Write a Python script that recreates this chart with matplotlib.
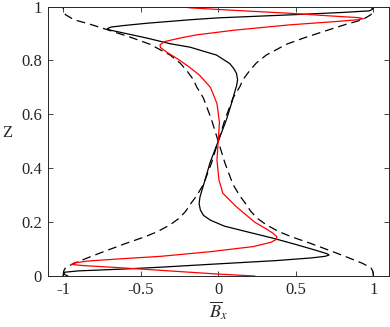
#!/usr/bin/env python
# -*- coding: utf-8 -*-

import matplotlib
matplotlib.use("Agg")
import matplotlib.pyplot as plt

# dashed curve going from (1, 0) up to (-1, 1)
dash_a_z = [0.000, 0.010, 0.020, 0.030, 0.047, 0.070, 0.090, 0.120, 0.146, 0.165,
            0.190, 0.215, 0.240, 0.270, 0.297, 0.340, 0.420, 0.500, 0.580, 0.660,
            0.703, 0.728, 0.760, 0.790, 0.820, 0.860, 0.885, 0.914, 0.935, 0.951,
            0.970, 0.980, 0.990, 1.000]
dash_a_x = [1.000, 0.998, 0.995, 0.985, 0.930, 0.830, 0.740, 0.600, 0.470, 0.390,
            0.310, 0.250, 0.210, 0.175, 0.140, 0.095, 0.043, 0.000, -0.043, -0.095,
            -0.140, -0.159, -0.200, -0.245, -0.310, -0.440, -0.560, -0.715, -0.830, -0.930,
            -0.985, -0.995, -0.998, -1.000]

# dashed curve going from (-1, 0) up to (1, 1)
dash_b_z = [0.000, 0.010, 0.020, 0.030, 0.047, 0.070, 0.090, 0.120, 0.146, 0.165,
            0.190, 0.215, 0.240, 0.270, 0.297, 0.340, 0.420, 0.500, 0.580, 0.660,
            0.703, 0.728, 0.760, 0.790, 0.820, 0.860, 0.885, 0.914, 0.935, 0.951,
            0.970, 0.980, 0.990, 1.000]
dash_b_x = [-1.000, -0.998, -0.995, -0.985, -0.930, -0.830, -0.740, -0.600, -0.470, -0.390,
            -0.310, -0.250, -0.210, -0.175, -0.140, -0.095, -0.043, 0.000, 0.043, 0.095,
            0.140, 0.159, 0.200, 0.245, 0.310, 0.440, 0.560, 0.715, 0.830, 0.930,
            0.985, 0.995, 0.998, 1.000]

# black solid profile
black_x = [-0.970, -0.995, -0.990, -0.900, -0.600, -0.360, 0.000, 0.370, 0.600, 0.690,
           0.715, 0.700, 0.620, 0.500, 0.355, 0.200, 0.040, -0.050, -0.095, -0.115,
           -0.123, -0.118, -0.105, -0.088, -0.053, 0.000, 0.053, 0.088, 0.105, 0.118,
           0.125, 0.118, 0.100, 0.075, -0.011, -0.100, -0.180, -0.310, -0.460, -0.620,
           -0.700, -0.715, -0.690, -0.600, -0.460, -0.180, 0.000, 0.460, 0.800, 0.975,
           0.995, 0.985]
black_z = [0.000, 0.007, 0.014, 0.019, 0.026, 0.033, 0.045, 0.057, 0.067, 0.073,
           0.078, 0.083, 0.097, 0.117, 0.140, 0.162, 0.185, 0.207, 0.225, 0.245,
           0.268, 0.292, 0.318, 0.350, 0.420, 0.500, 0.580, 0.645, 0.680, 0.705,
           0.728, 0.752, 0.770, 0.788, 0.820, 0.835, 0.849, 0.862, 0.883, 0.903,
           0.913, 0.918, 0.924, 0.930, 0.938, 0.951, 0.958, 0.969, 0.978, 0.984,
           0.990, 1.000]

# red solid profile
red_x = [0.235, 0.000, -0.370, -0.700, -0.880, -0.945, -0.930, -0.850, -0.650, -0.370,
         -0.054, 0.224, 0.340, 0.375, 0.378, 0.350, 0.320, 0.235, 0.117, 0.030,
         0.005, -0.008, 0.000, 0.008, -0.008, -0.050, -0.120, -0.190, -0.260, -0.330,
         -0.372, -0.375, -0.345, -0.230, -0.137, 0.100, 0.460, 0.750, 0.900, 0.935,
         0.900, 0.700, 0.460, 0.100, -0.180, -0.236]
red_z = [0.000, 0.007, 0.021, 0.033, 0.039, 0.043, 0.048, 0.055, 0.063, 0.073,
         0.090, 0.109, 0.125, 0.136, 0.146, 0.160, 0.171, 0.200, 0.257, 0.307,
         0.356, 0.430, 0.500, 0.570, 0.640, 0.700, 0.745, 0.777, 0.805, 0.830,
         0.848, 0.858, 0.870, 0.885, 0.895, 0.912, 0.932, 0.944, 0.951, 0.955,
         0.959, 0.966, 0.975, 0.986, 0.995, 1.000]

x_ticks = [-1, -0.5, 0, 0.5, 1]
x_tick_labels = ["-1", "-0.5", "0", "0.5", "1"]
z_ticks = [0, 0.2, 0.4, 0.6, 0.8, 1]
z_tick_labels = ["0", "0.2", "0.4", "0.6", "0.8", "1"]


def main():
    plt.rcParams['font.family'] = ['Liberation Serif', 'DejaVu Serif']
    plt.rcParams['mathtext.fontset'] = 'stix'

    fig = plt.figure(figsize=(3.9, 3.27), dpi=100)
    ax = fig.add_axes([0.122, 0.156, 0.875, 0.824])

    # MATLAB-like long dashes
    dash = (0, (7, 4))
    ax.plot(dash_a_x, dash_a_z, color='k', linewidth=0.9, linestyle=dash)
    ax.plot(dash_b_x, dash_b_z, color='k', linewidth=0.9, linestyle=dash)
    ax.plot(black_x, black_z, color='k', linewidth=0.9)
    ax.plot(red_x, red_z, color='r', linewidth=0.9)

    ax.set_xlim(-1.1, 1.1)
    ax.set_ylim(0, 1)
    ax.set_xticks(x_ticks)
    ax.set_xticklabels(x_tick_labels)
    ax.set_yticks(z_ticks)
    ax.set_yticklabels(z_tick_labels)
    ax.tick_params(direction='in', top=True, right=True, length=3.5,
                   width=0.6, colors='#262626', labelsize=12, pad=4)
    for sp in ax.spines.values():
        sp.set_linewidth(0.7)
        sp.set_color('#262626')

    ax.set_xlabel(r'$\overline{B}_x$', fontsize=13, color='#262626', labelpad=1)
    ax.set_ylabel('Z', fontsize=12, color='#262626', rotation=0, labelpad=10)

    fig.savefig("out.png", dpi=100)


if __name__ == "__main__":
    main()
